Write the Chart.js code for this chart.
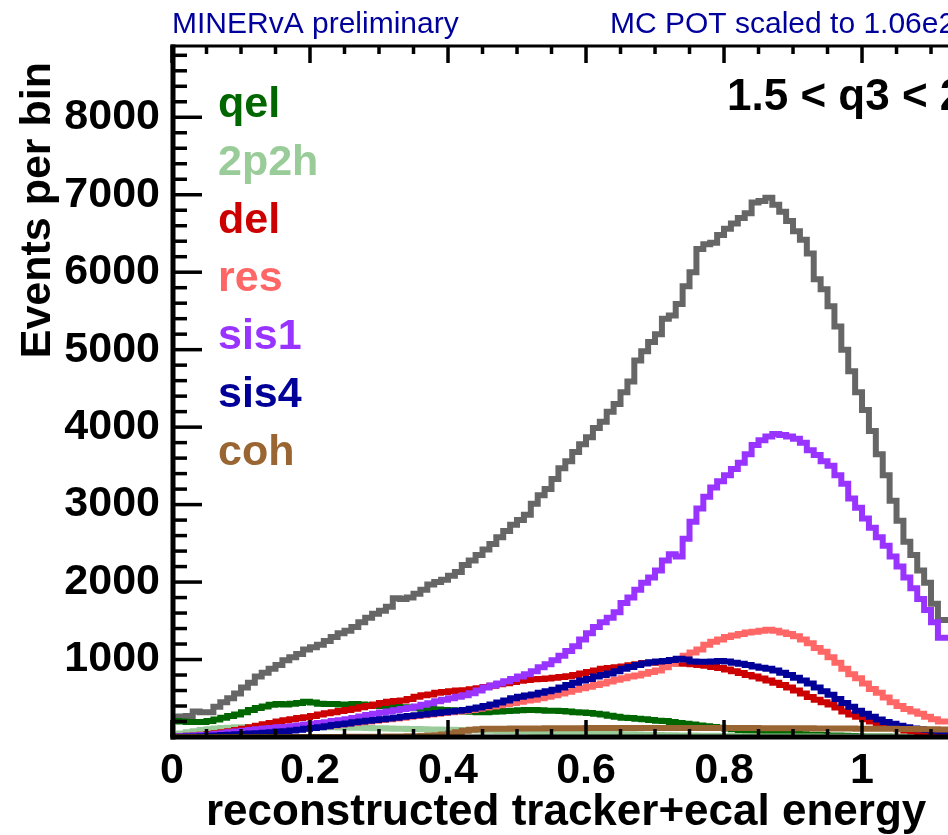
<!DOCTYPE html>
<html><head><meta charset="utf-8">
<script src="https://cdn.jsdelivr.net/npm/chart.js@4/dist/chart.umd.min.js"></script>
<style>html,body{margin:0;padding:0;background:#fff;overflow:hidden}canvas{display:block}</style>
</head><body>
<canvas id="c" width="948" height="835"></canvas>
<script>
// ---- binning (left edge of first bin, bin width) ----
const binLow = 0.0;
const binWidth = 0.01;

// ---- series names / colours ----
const seriesNames = ["qel", "2p2h", "del", "res", "sis1", "sis4", "coh"];
const seriesColors = ["#006600", "#99cc99", "#cc0000", "#ff6666", "#9933ff", "#000099", "#996633"];
const totalColor = "#666666";

// ---- tick labels ----
const xTickValues = [0, 0.2, 0.4, 0.6, 0.8, 1];
const yTickValues = [1000, 2000, 3000, 4000, 5000, 6000, 7000, 8000];

// ---- events per bin (bins of 0.01 starting at 0.00) ----
const total = [
255,260,265,270,330,320,320,390,450,500,
560,640,700,780,830,880,930,990,1030,1070,
1130,1160,1190,1240,1290,1340,1370,1420,1480,1540,
1590,1630,1680,1790,1780,1800,1850,1900,1970,2000,
2030,2080,2130,2220,2280,2350,2420,2490,2580,2660,
2740,2800,2870,3010,3120,3200,3330,3470,3560,3680,
3780,3870,3990,4070,4200,4300,4450,4590,4860,4980,
5100,5200,5400,5440,5590,5820,6000,6300,6360,6380,
6480,6560,6630,6700,6760,6900,6920,6960,6870,6780,
6660,6530,6420,6240,5910,5780,5560,5300,5000,4720,
4450,4220,3950,3650,3380,3050,2790,2520,2350,2150,
1990,1720,1510];

const qel = [
210,205,200,195,195,195,205,225,250,270,
290,320,350,375,395,415,425,420,430,440,
455,445,430,425,425,420,420,425,420,410,
405,400,395,390,385,380,370,365,360,355,
350,345,340,330,325,320,320,325,330,335,
340,345,350,350,345,340,340,335,330,320,
315,310,300,290,275,260,250,245,235,230,
220,210,205,195,180,170,160,150,140,130,
120,110,100,90,80,75,70,60,55,50,
45,40,35,30,28,25,20,18,15,12,
10,8,7,6,5,4,3,3,2,2,
1,1,1];

const twoP2h = [
20,30,45,60,75,90,100,110,115,120,
125,125,130,130,130,130,130,130,130,130,
130,130,128,126,125,124,122,120,118,116,
114,112,110,108,106,104,102,100,98,96,
94,92,90,88,86,84,82,80,78,76,
74,72,70,67,64,61,58,55,52,50,
48,46,44,42,40,38,36,34,32,30,
28,26,24,22,20,19,18,17,16,15,
14,13,12,11,10,9,8,8,7,7,
6,6,5,5,5,4,4,4,3,3,
3,3,2,2,2,2,2,1,1,1,
1,1,1];

const del = [
0,5,10,15,20,30,40,50,60,75,
90,105,125,145,165,180,200,215,230,245,
255,270,290,305,320,335,350,365,385,400,
420,440,455,465,470,490,520,540,550,570,
580,590,600,605,615,630,645,660,680,695,
710,725,735,745,750,755,765,775,785,800,
820,840,860,880,890,900,910,925,940,955,
960,960,955,955,950,945,940,930,920,905,
890,870,850,825,800,780,755,730,700,670,
640,600,560,515,480,450,420,380,330,290,
260,230,200,170,140,120,100,85,75,65,
58,50,45];

const res = [
0,2,5,8,10,15,20,25,30,35,
40,45,50,55,60,70,75,85,95,100,
110,120,130,140,150,160,170,180,190,200,
210,220,230,240,250,260,270,280,290,300,
310,320,330,340,350,365,380,395,410,425,
440,455,470,480,500,520,540,560,585,610,
630,650,670,690,715,740,760,780,795,815,
840,860,900,950,1000,1050,1090,1130,1190,1230,
1260,1290,1310,1330,1350,1360,1370,1385,1370,1350,
1330,1300,1260,1210,1150,1100,1030,960,880,810,
760,690,620,570,510,450,400,360,330,300,
260,230,200];

const sis1 = [
0,5,10,15,20,25,30,40,50,60,
70,80,90,100,110,115,125,130,140,150,
160,170,180,190,205,215,230,245,265,285,
300,315,330,345,360,375,395,415,435,460,
480,500,520,540,565,600,640,665,690,720,
750,780,810,850,900,940,990,1050,1110,1170,
1260,1340,1420,1480,1540,1610,1730,1800,1900,1990,
2060,2150,2280,2360,2330,2560,2780,2950,3100,3220,
3300,3380,3460,3540,3650,3770,3830,3880,3910,3900,
3880,3850,3800,3700,3640,3560,3500,3380,3270,3080,
2960,2820,2700,2580,2470,2330,2200,2060,1920,1780,
1640,1480,1280];

const sis4 = [
0,2,4,6,8,10,15,20,25,30,
35,40,45,50,55,60,70,75,85,95,
105,115,125,140,155,165,175,190,200,210,
220,230,240,250,260,270,280,290,300,310,
320,330,340,350,365,380,400,420,445,470,
500,520,535,550,570,590,610,640,670,700,
730,750,780,800,820,850,880,905,930,950,
965,975,980,995,1010,1000,975,970,970,975,
980,975,960,945,930,910,895,880,860,830,
800,765,730,690,640,590,545,490,440,390,
340,300,260,225,195,170,145,125,110,100,
90,80,70];

const coh = [
0,0,0,0,0,0,0,0,0,0,
0,0,0,0,0,0,0,0,0,0,
0,0,0,1,1,1,2,2,2,3,
3,4,5,6,7,9,11,14,18,24,
32,45,62,80,95,101,105,106,107,108,
109,110,110,111,111,112,112,113,113,114,
114,115,115,115,116,116,116,117,117,117,
117,117,117,117,117,117,117,116,116,116,
116,116,115,115,115,115,114,114,114,113,
113,113,112,112,111,111,110,110,109,109,
108,108,107,107,106,105,104,103,102,101,
100,99,98];

// ---- build histogram step points (bin edges) ----
function histPoints(vals) {
  const pts = vals.map((v, i) => ({x: binLow + i * binWidth, y: v}));
  pts.push({x: binLow + vals.length * binWidth, y: vals[vals.length - 1]});
  return pts;
}
const seriesValues = [qel, twoP2h, del, res, sis1, sis4, coh];

const datasets = [{
  label: "total", data: histPoints(total), borderColor: totalColor, order: 10
}];
seriesNames.forEach((n, i) => {
  datasets.push({label: n, data: histPoints(seriesValues[i]), borderColor: seriesColors[i], order: 9 - i});
});
datasets.forEach(d => Object.assign(d, {
  stepped: 'after', borderWidth: 6, pointRadius: 0, fill: false,
  borderJoinStyle: 'miter', borderCapStyle: 'butt', tension: 0
}));

const FONT = '"Liberation Sans", Arial, Helvetica, sans-serif';

const rootFrame = {
  id: 'rootFrame',
  afterDatasetsDraw(chart) {
    const {ctx, chartArea: {left, right, top, bottom}, scales: {x, y}} = chart;
    ctx.save();
    ctx.strokeStyle = '#000';
    ctx.lineCap = 'butt';
    const seg = (x1, y1, x2, y2) => { ctx.beginPath(); ctx.moveTo(x1, y1); ctx.lineTo(x2, y2); ctx.stroke(); };
    ctx.lineWidth = 3.5;
    for (let k = 0; k * 0.05 <= x.max + 1e-9; k++) {
      const px = x.getPixelForValue(k * 0.05);
      const len = (k % 4 === 0) ? 17 : 8;
      seg(px, bottom, px, bottom - len);
      seg(px, top, px, top + len);
    }
    for (let k = 0; k * 200 <= y.max; k++) {
      const py = y.getPixelForValue(k * 200);
      const len = (k % 5 === 0) ? 30 : 15;
      seg(left, py, left + len, py);
    }
    ctx.lineWidth = 5;
    seg(left + 1, bottom + 2.5, left + 1, top - 1.5);
    seg(left - 1.5, bottom, right + 5, bottom);
    ctx.lineWidth = 3;
    seg(left - 1.5, top, right + 5, top);
    ctx.restore();
  },
  afterDraw(chart) {
    const ctx = chart.ctx;
    ctx.save();
    ctx.textBaseline = 'alphabetic';
    // header
    ctx.font = '30px ' + FONT;
    ctx.fillStyle = '#00009c';
    ctx.textAlign = 'left';
    ctx.fillText('MINERvA preliminary', 172, 33);
    ctx.fillText('MC POT scaled to 1.06e21 POT', 610, 33);
    // bin title
    ctx.fillStyle = '#000';
    ctx.font = 'bold 44px ' + FONT;
    ctx.fillText('1.5 < q3 < 2.0', 727, 110);
    // legend
    ctx.font = 'bold 43px ' + FONT;
    seriesNames.forEach((n, i) => {
      ctx.fillStyle = seriesColors[i];
      ctx.fillText(n, 218, 117 + i * 58);
    });
    // x title
    ctx.fillStyle = '#000';
    ctx.font = 'bold 44px ' + FONT;
    ctx.fillText('reconstructed tracker+ecal energy', 206, 825);
    // y title
    ctx.font = 'bold 43px ' + FONT;
    ctx.translate(50, 62);
    ctx.rotate(-Math.PI / 2);
    ctx.textAlign = 'right';
    ctx.fillText('Events per bin', 0, 0);
    ctx.restore();
  }
};

new Chart(document.getElementById('c'), {
  type: 'line',
  data: {datasets},
  plugins: [rootFrame],
  options: {
    responsive: false,
    animation: false,
    events: [],
    layout: {padding: {top: 46, right: 0, left: 0, bottom: 0}},
    plugins: {legend: {display: false}, tooltip: {enabled: false}, title: {display: false}},
    scales: {
      x: {
        type: 'linear', min: 0, max: 1.1246,
        grid: {display: false, drawTicks: false}, border: {display: false},
        afterBuildTicks: s => { s.ticks = xTickValues.map(v => ({value: v})); },
        afterFit: s => { s.height = 98; },
        ticks: {
          font: {family: FONT, size: 43, weight: 'bold'}, color: '#000', padding: 8,
          maxRotation: 0, autoSkip: false, callback: v => String(+v.toFixed(2))
        }
      },
      y: {
        type: 'linear', min: 0, max: 8920,
        grid: {display: false, drawTicks: false}, border: {display: false},
        afterBuildTicks: s => { s.ticks = yTickValues.map(v => ({value: v})); },
        afterFit: s => { s.width = 172; },
        ticks: {
          font: {family: FONT, size: 43, weight: 'bold'}, color: '#000', padding: 12,
          autoSkip: false, callback: v => String(v)
        }
      }
    }
  }
});
</script>
</body></html>
